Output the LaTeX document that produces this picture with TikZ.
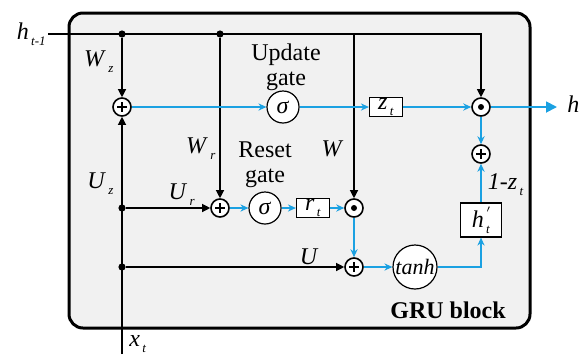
\documentclass[tikz,border=0pt]{standalone}
\usepackage{fontspec}
\setmainfont{Liberation Serif}
\usepackage{tikz}
\usetikzlibrary{arrows.meta, positioning, calc}
\definecolor{flowblue}{RGB}{27,161,226}
\definecolor{blockgray}{RGB}{241,241,241}
\newcommand{\vsub}[2]{\textit{#1}\kern1.2pt\raisebox{-3pt}{\fontsize{6.5}{7}\selectfont\textit{#2}}}

\begin{document}
\begin{tikzpicture}[x=0.5pt, y=-0.5pt,
  font=\fontsize{12}{12.5}\selectfont,
  op/.style={circle, draw, line width=0.8pt, fill=white, minimum size=9pt, inner sep=0pt},
  add/.style={op, path picture={\draw[black, line width=1.2pt]
      ([xshift=-2.4pt]path picture bounding box.center) -- ([xshift=2.4pt]path picture bounding box.center)
      ([yshift=-2.4pt]path picture bounding box.center) -- ([yshift=2.4pt]path picture bounding box.center);}},
  mul/.style={op, path picture={\fill[black] (path picture bounding box.center) circle (1.5pt);}},
  act/.style={circle, draw, line width=0.6pt, fill=white, minimum size=16pt, inner sep=0pt},
  gatebox/.style={rectangle, draw, line width=0.6pt, fill=white, minimum width=16.5pt, minimum height=9.5pt, inner sep=0pt},
  dot/.style={circle, fill, inner sep=0pt, minimum size=3.6pt},
  wire/.style={line width=0.6pt},
  warrow/.style={wire, -{Triangle[length=4pt, width=4pt]}},
  flow/.style={flowblue, line width=0.9pt, -{Stealth[length=4pt, width=3.6pt]}},
  lbl/.style={inner sep=1pt, text=black}]

  \useasboundingbox (0,0) rectangle (582,354);
  \draw[line width=1.5pt, fill=blockgray, rounded corners=7pt] (69,13) rectangle (530,328);

  % operators and gates
  \node[add] (pz) at (122,107) {};
  \node[act] (sz) at (283,107) {\textit{σ}};
  \node[gatebox] (zt) at (386,107) {\vsub{z}{t}};
  \node[mul] (mo) at (481,107) {};
  \node[add] (po) at (481,154) {};
  \node[gatebox, minimum width=20.5pt, minimum height=17pt] (hc) at (481,220)
       {\textit{h}\rlap{\raisebox{5pt}{\fontsize{6.5}{7}\selectfont\,$'$}}\raisebox{-3pt}{\fontsize{6.5}{7}\selectfont\,\textit{t}}};
  \node[add] (pr) at (220,208) {};
  \node[act] (sr) at (265,208) {\textit{σ}};
  \node[gatebox] (rt) at (313,208) {\vsub{r}{t}};
  \node[mul] (mr) at (354,208) {};
  \node[add] (ph) at (354,267) {};
  \node[act, minimum size=22pt] (th) at (415,267) {\fontsize{11}{11}\selectfont\textit{tanh}};

  % junctions
  \coordinate (hin) at (48,34);
  \node[dot] (dz) at (122,34) {};
  \node[dot] (dr) at (220,34) {};
  \coordinate (dw) at (354,34);
  \coordinate (dm) at (481,34);
  \coordinate (xin) at (122,354);
  \node[dot] (xr) at (122,208) {};
  \node[dot] (xh) at (122,267) {};
  \coordinate (hout) at (557,107);
  \coordinate (tc) at (481,267);

  % inputs
  \node[lbl, anchor=east] (hl) at (hin) {\vsub{h}{t-1}};
  \node[lbl, anchor=west] (xl) at (127,344) {\vsub{x}{t}};
  \draw[warrow] (hin) -- (dm) -- (mo);
  \draw[warrow] (dz) -- node[lbl, left, xshift=-3pt, pos=0.4] {\vsub{W}{z}} (pz);
  \draw[warrow] (dr) -- node[lbl, left, xshift=-1pt, pos=0.69] {\vsub{W}{r}} (pr);
  \draw[warrow] (dw) -- node[lbl, left, xshift=-4pt, pos=0.7] {\textit{W}} (mr);
  \draw[warrow] (xin) -- node[lbl, left, xshift=-3pt, pos=0.72] {\vsub{U}{z}} (pz);
  \draw[warrow] (xr) -- node[lbl, above, pos=0.66] {\vsub{U}{r}} (pr);
  \draw[warrow] (xh) -- node[lbl, above, pos=0.84] {\textit{U}} (ph);

  % gate flow
  \draw[flow] (pz) -- (sz);
  \draw[flow] (sz) -- (zt);
  \draw[flow] (zt) -- (mo);
  \draw[flowblue, line width=0.9pt, -{Triangle[length=5.5pt, width=5.5pt]}] (mo) -- (hout);
  \draw[flow] (mo) -- (po);
  \draw[flow] (pr) -- (sr);
  \draw[flow] (sr) -- (rt);
  \draw[flow] (rt) -- (mr);
  \draw[flow] (mr) -- (ph);
  \draw[flow] (ph) -- (th);
  \draw[flow] (th) -- (tc) -- (hc);
  \draw[flow] (hc) -- node[lbl, right, xshift=2pt, pos=0.45] {\vsub{1-z}{t}} (po);

  % text
  \node[lbl, anchor=west] (hr) at (hout) {\hspace{4pt}\vsub{h}{t}};
  \node[align=center] (ug) at (286,67) {Update\\gate};
  \node[align=center] (rg) at (265,165) {Reset\\gate};
  \node[font=\fontsize{12}{12}\selectfont\bfseries] (gru) at (448,310) {GRU block};
\end{tikzpicture}
\end{document}
